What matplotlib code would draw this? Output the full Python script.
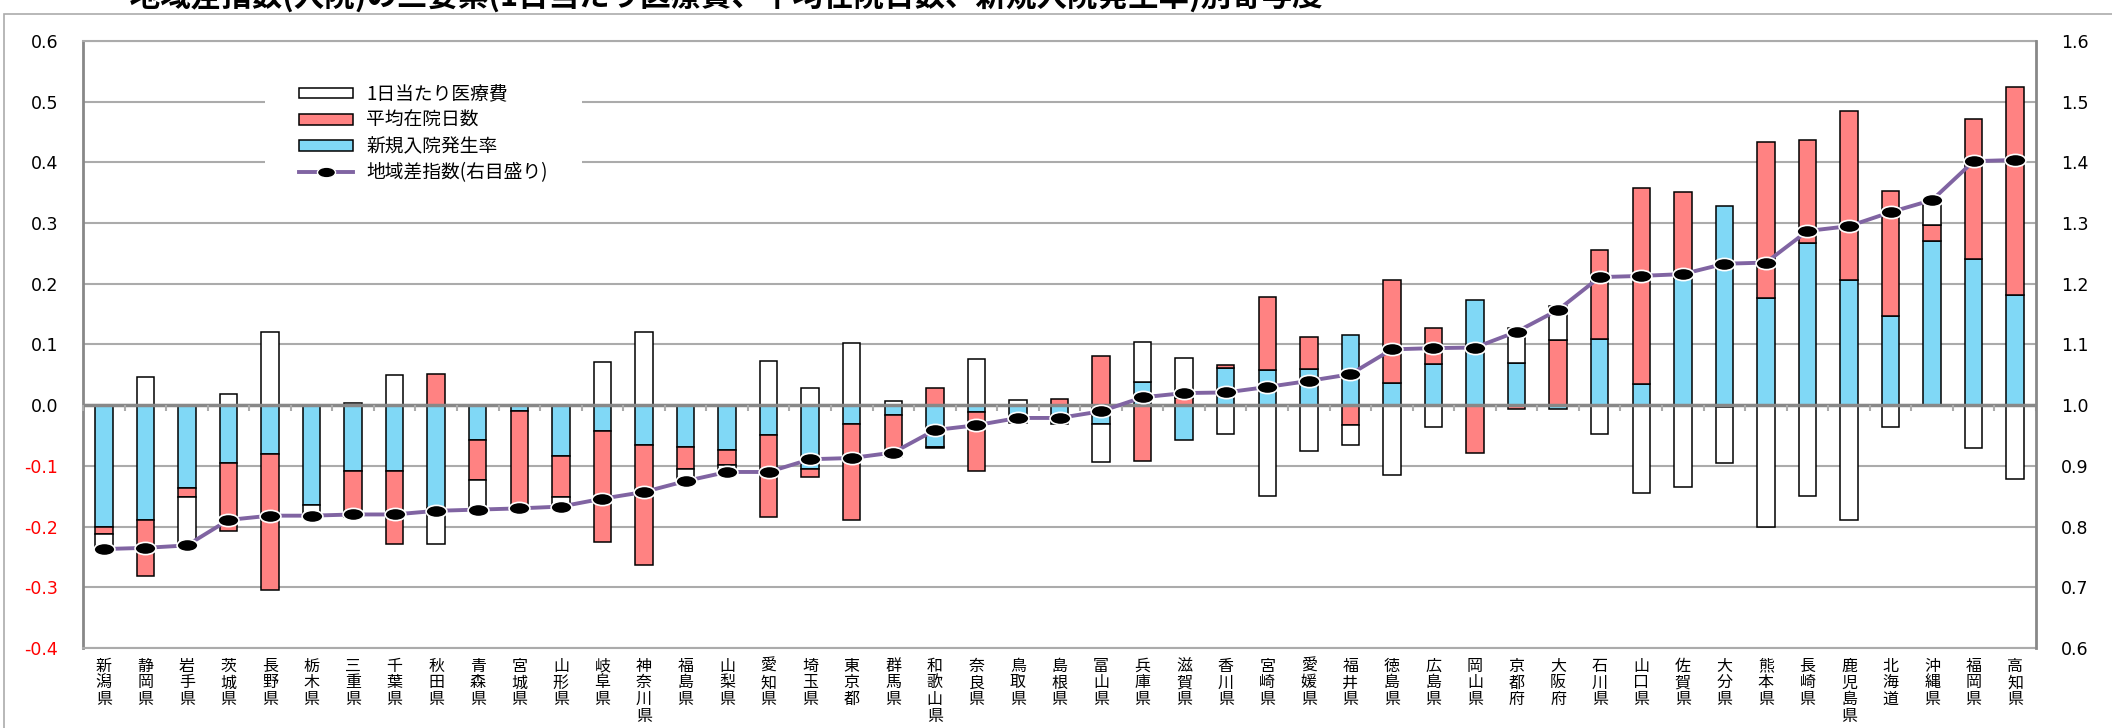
import numpy as np
import matplotlib
matplotlib.use('Agg')
import matplotlib.pyplot as plt
from matplotlib.path import Path
from matplotlib.patches import Patch, Rectangle
from matplotlib.lines import Line2D

plt.rcParams['font.family'] = ['Noto Sans CJK JP', 'DejaVu Sans']

# ---------------- data ----------------
prefs = ['新潟県', '静岡県', '岩手県', '茨城県', '長野県', '栃木県', '三重県', '千葉県',
         '秋田県', '青森県', '宮城県', '山形県', '岐阜県', '神奈川県', '福島県', '山梨県',
         '愛知県', '埼玉県', '東京都', '群馬県', '和歌山県', '奈良県', '鳥取県', '島根県',
         '富山県', '兵庫県', '滋賀県', '香川県', '宮崎県', '愛媛県', '福井県', '徳島県',
         '広島県', '岡山県', '京都府', '大阪府', '石川県', '山口県', '佐賀県', '大分県',
         '熊本県', '長崎県', '鹿児島県', '北海道', '沖縄県', '福岡県', '高知県']

# 新規入院発生率 (contribution)
new_adm = [-0.201, -0.189, -0.137, -0.095, -0.080, -0.164, -0.108, -0.108,
           -0.169, -0.057, -0.009, -0.083, -0.043, -0.066, -0.069, -0.073,
           -0.049, -0.105, -0.031, -0.016, -0.069, -0.011, -0.029, -0.031,
           -0.031, 0.038, -0.058, 0.061, 0.058, 0.060, 0.116, 0.036,
           0.068, 0.173, 0.070, -0.007, 0.109, 0.035, 0.209, 0.328,
           0.176, 0.268, 0.206, 0.147, 0.270, 0.241, 0.182]

# 平均在院日数 (contribution)
avg_los = [-0.011, -0.092, -0.015, -0.113, -0.224, 0.000, -0.076, -0.121,
           0.052, -0.066, -0.156, -0.069, -0.183, -0.197, -0.036, -0.025,
           -0.135, -0.013, -0.158, -0.069, 0.029, -0.098, 0.000, 0.010,
           0.081, -0.092, 0.012, 0.006, 0.120, 0.053, -0.032, 0.171,
           0.060, -0.078, -0.006, 0.107, 0.147, 0.323, 0.142, -0.003,
           0.258, 0.169, 0.278, 0.206, 0.027, 0.230, 0.342]

# 1日当たり医療費 (contribution)
daily_cost = [-0.025, 0.046, -0.079, 0.019, 0.121, -0.018, 0.004, 0.049,
              -0.059, -0.049, -0.005, -0.015, 0.071, 0.120, -0.020, -0.012,
              0.073, 0.029, 0.102, 0.007, -0.001, 0.076, 0.008, 0.000,
              -0.062, 0.066, 0.065, -0.047, -0.149, -0.075, -0.034, -0.115,
              -0.036, 0.000, 0.057, 0.057, -0.047, -0.145, -0.135, -0.092,
              -0.200, -0.150, -0.189, -0.036, 0.041, -0.070, -0.121]

# 地域差指数 (right axis)
region_index = [0.763, 0.765, 0.769, 0.811, 0.818, 0.818, 0.820, 0.820,
                0.826, 0.828, 0.830, 0.833, 0.846, 0.857, 0.875, 0.890,
                0.890, 0.911, 0.913, 0.922, 0.959, 0.967, 0.979, 0.979,
                0.990, 1.013, 1.020, 1.021, 1.030, 1.040, 1.051, 1.092,
                1.094, 1.095, 1.121, 1.157, 1.211, 1.213, 1.216, 1.233,
                1.235, 1.287, 1.295, 1.318, 1.338, 1.402, 1.404]

left_ticks = [-0.4, -0.3, -0.2, -0.1, 0.0, 0.1, 0.2, 0.3, 0.4, 0.5, 0.6]
right_ticks = [0.6, 0.7, 0.8, 0.9, 1.0, 1.1, 1.2, 1.3, 1.4, 1.5, 1.6]

lbl_cost = '1日当たり医療費'
lbl_los = '平均在院日数'
lbl_new = '新規入院発生率'
lbl_idx = '地域差指数(右目盛り)'
title = '・地域差指数(入院)の三要素(1日当たり医療費、平均在院日数、新規入院発生率)別寄与度'

# ---------------- style ----------------
C_BLUE = '#80D8F6'
C_RED = '#FF8282'
C_WHITE = '#FFFFFF'
C_LINE = '#8064A2'
C_GRID = '#ABABAB'
C_AXIS = '#888888'

W, H = 2112, 728
fig = plt.figure(figsize=(W / 100, H / 100), dpi=100)
ax = fig.add_axes([83 / W, 1 - 648 / H, (2036 - 83) / W, (648 - 41) / H])
ax2 = ax.twinx()

n = len(prefs)
x = np.arange(n)
pos = np.zeros(n)
neg = np.zeros(n)
for vals, col in [(new_adm, C_BLUE), (avg_los, C_RED), (daily_cost, C_WHITE)]:
    v = np.array(vals, dtype=float)
    bottom = np.where(v >= 0, pos, neg)
    m = v != 0
    ax.bar(x[m], v[m], 0.42, bottom=bottom[m], color=col, edgecolor='black',
           linewidth=1.1, zorder=3)
    pos += np.where(v > 0, v, 0)
    neg += np.where(v < 0, v, 0)

ax.set_xlim(-0.5, n - 0.5)
ax.set_ylim(-0.4, 0.6)
ax.set_yticks(left_ticks)
ax.set_yticklabels(['%.1f' % t for t in left_ticks], family='DejaVu Sans', fontsize=12.5)
for lab, t in zip(ax.get_yticklabels(), left_ticks):
    lab.set_color('red' if t < 0 else 'black')
ax.yaxis.grid(True, color=C_GRID, lw=1.5)
ax.set_axisbelow(True)
ax.tick_params(axis='y', length=0, pad=18)

ax.set_xticks(x)
ax.set_xticklabels(['\n'.join(p) for p in prefs], fontsize=11.5)
for lab in ax.get_xticklabels():
    lab.set_linespacing(0.98)
ax.tick_params(axis='x', length=0, pad=7)

# zero (category) axis line with boundary ticks
ax.axhline(0, color=C_AXIS, lw=2.5, zorder=4)
ax.plot(np.arange(n + 1) - 0.5, np.zeros(n + 1), ls='none', marker=3, ms=4,
        mew=1.5, color=C_GRID, zorder=4, clip_on=False)

for s in ['top', 'bottom']:
    ax.spines[s].set_color(C_GRID)
    ax.spines[s].set_linewidth(1.5)
ax.spines['right'].set_visible(False)
ax.spines['left'].set_color(C_AXIS)
ax.spines['left'].set_linewidth(2)

ax2.set_ylim(0.6, 1.6)
ax2.set_yticks(right_ticks)
ax2.set_yticklabels(['%.1f' % t for t in right_ticks], family='DejaVu Sans', fontsize=12.5)
ax2.tick_params(axis='y', length=0, pad=18)
for s in ['top', 'bottom', 'left']:
    ax2.spines[s].set_visible(False)
ax2.spines['right'].set_color(C_AXIS)
ax2.spines['right'].set_linewidth(2)

# ellipse marker (the original chart is horizontally stretched)
circ = Path.unit_circle()
ell = Path(circ.vertices * np.array([1.7, 1.0]), circ.codes)

ax2.plot(x, region_index, color=C_LINE, lw=2.8, marker=ell, ms=15,
         mfc='black', mec='white', mew=1.2, zorder=5)

handles = [
    Patch(facecolor=C_WHITE, edgecolor='black', lw=1.1, label=lbl_cost),
    Patch(facecolor=C_RED, edgecolor='black', lw=1.1, label=lbl_los),
    Patch(facecolor=C_BLUE, edgecolor='black', lw=1.1, label=lbl_new),
    Line2D([], [], color=C_LINE, lw=2.8, marker=ell, ms=13, mfc='black',
           mec='white', mew=1.0, label=lbl_idx),
]
leg = ax2.legend(handles=handles, loc='upper left', bbox_to_anchor=(265 / W, 1 - 50 / H),
                 bbox_transform=fig.transFigure, fontsize=13.5, handlelength=2.9,
                 handleheight=0.5, handletextpad=0.7, labelspacing=0.27,
                 borderpad=1.8, borderaxespad=0, frameon=True, fancybox=False,
                 framealpha=1)
leg.get_frame().set_facecolor('white')
leg.get_frame().set_linewidth(0)

# outer chart border and title (clipped at the top edge as in the original)
fig.add_artist(Rectangle((4 / W, -0.1), 1.2, 1.1 - 14 / H, transform=fig.transFigure,
                         fill=False, edgecolor=C_GRID, lw=1.2))
fig.text(100 / W, 1 - 6 / H, title, fontsize=22, fontweight='bold', va='baseline',
         ha='left')

fig.savefig('out.png', dpi=100)
